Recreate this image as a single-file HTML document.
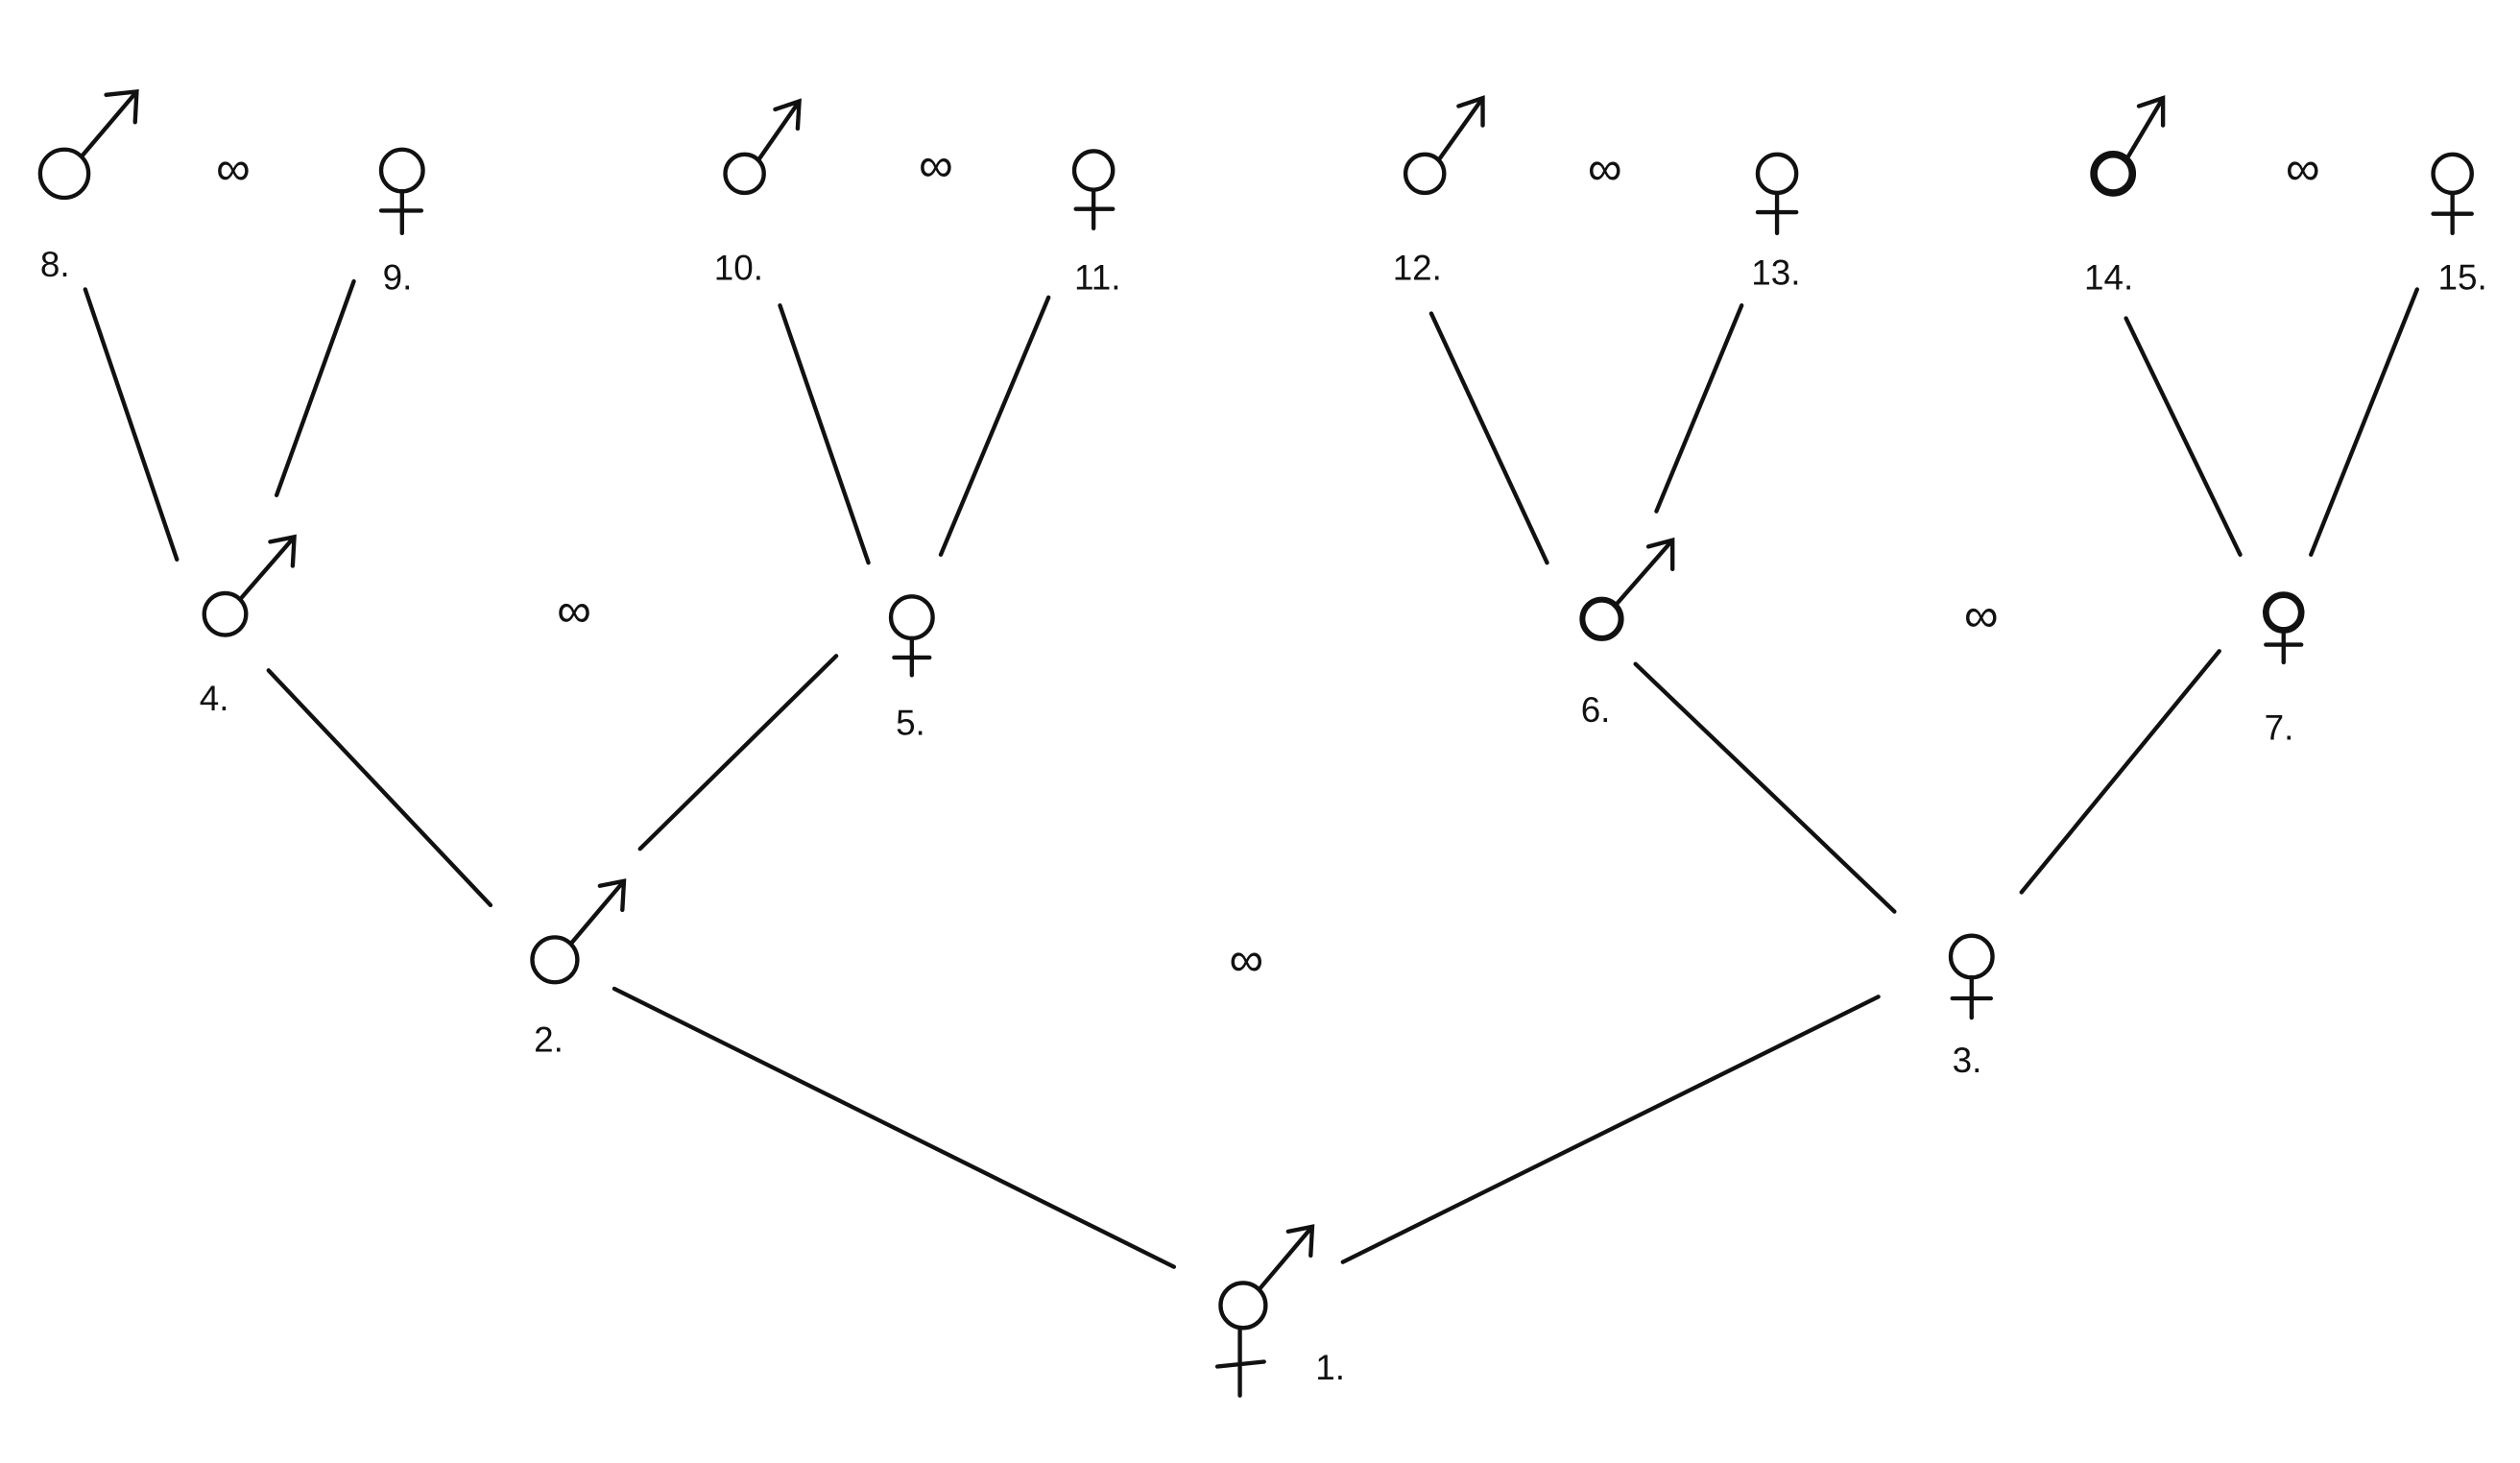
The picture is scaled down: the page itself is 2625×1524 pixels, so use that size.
<!DOCTYPE html>
<html>
<head>
<meta charset="utf-8">
<style>
html,body{margin:0;padding:0;background:#fff;}
svg{display:block;}
text{font-family:"Liberation Sans",sans-serif;fill:#111;}
</style>
</head>
<body>
<svg width="2625" height="1524" viewBox="0 0 1567 910" xmlns="http://www.w3.org/2000/svg" preserveAspectRatio="none">
<defs>
<marker id="a" viewBox="0 0 10 10" refX="8" refY="5" markerWidth="0" markerHeight="0"/>
</defs>
<g stroke="#111" stroke-width="2.6" fill="none" stroke-linecap="round">
<!-- male symbols -->
<g id="males">
<circle cx="40" cy="108" r="15"/><path d="M51 97 L85 57 M66 59 L85 57 L84 76"/>
<circle cx="463" cy="108" r="12"/><path d="M472 99 L497 63 M482 68 L497 63 L496 80"/>
<circle cx="886" cy="108" r="12"/><path d="M895 99 L922 61 M907 66 L922 61 L922 78"/>
<circle cx="1314" cy="108" r="12" stroke-width="4.5"/><path d="M1323 98 L1345 61 M1330 66 L1345 61 L1345 78"/>
<circle cx="140" cy="382" r="13"/><path d="M150 372 L183 334 M168 337 L183 334 L182 352"/>
<circle cx="996" cy="385" r="12" stroke-width="3.6"/><path d="M1005 376 L1040 336 M1025 340 L1040 336 L1040 354"/>
<circle cx="345" cy="597" r="14"/><path d="M355 587 L388 548 M373 551 L388 548 L387 566"/>
<circle cx="773" cy="812" r="14"/><path d="M783 802 L816 763 M801 766 L816 763 L815 781"/>
<path d="M771 826 L771 868 M757 850 L786 847"/>
</g>
<!-- female symbols -->
<circle cx="250" cy="106" r="13"/><path d="M250 119 L250 145 M237 131 L262 131"/>
<circle cx="680" cy="106" r="12"/><path d="M680 118 L680 142 M669 130 L692 130"/>
<circle cx="1105" cy="108" r="12"/><path d="M1105 120 L1105 145 M1093 132 L1117 132"/>
<circle cx="1525" cy="108" r="12"/><path d="M1525 120 L1525 145 M1513 133 L1537 133"/>
<circle cx="567" cy="384" r="13"/><path d="M567 397 L567 420 M556 409 L578 409"/>
<circle cx="1420" cy="381" r="11" stroke-width="4"/><path d="M1420 392 L1420 412 M1409 401 L1431 401"/>
<circle cx="1226" cy="595" r="13"/><path d="M1226 608 L1226 633 M1214 621 L1238 621"/>
<!-- connectors -->
<path d="M53 180 L110 348 M220 175 L172 308"/>
<path d="M485 190 L540 350 M652 185 L585 345"/>
<path d="M890 195 L962 350 M1083 190 L1030 318"/>
<path d="M1322 198 L1393 345 M1503 180 L1437 345"/>
<path d="M167 417 L305 563 M520 408 L398 528"/>
<path d="M1017 413 L1178 567 M1380 405 L1257 555"/>
<path d="M382 615 L730 788 M1168 620 L835 785"/>
</g>
<g font-size="22">
<text x="145" y="115" text-anchor="middle" font-size="30">∞</text>
<text x="582" y="113" text-anchor="middle" font-size="30">∞</text>
<text x="998" y="115" text-anchor="middle" font-size="30">∞</text>
<text x="1432" y="115" text-anchor="middle" font-size="30">∞</text>
<text x="357" y="390" text-anchor="middle" font-size="30">∞</text>
<text x="1232" y="393" text-anchor="middle" font-size="30">∞</text>
<text x="775" y="607" text-anchor="middle" font-size="30">∞</text>
<text x="25" y="172">8.</text>
<text x="238" y="180">9.</text>
<text x="444" y="174">10.</text>
<text x="668" y="180">11.</text>
<text x="866" y="174">12.</text>
<text x="1089" y="177">13.</text>
<text x="1296" y="180">14.</text>
<text x="1516" y="180">15.</text>
<text x="124" y="442">4.</text>
<text x="557" y="457">5.</text>
<text x="983" y="449">6.</text>
<text x="1408" y="460">7.</text>
<text x="332" y="654">2.</text>
<text x="1214" y="667">3.</text>
<text x="818" y="858">1.</text>
</g>
</svg>
</body>
</html>
